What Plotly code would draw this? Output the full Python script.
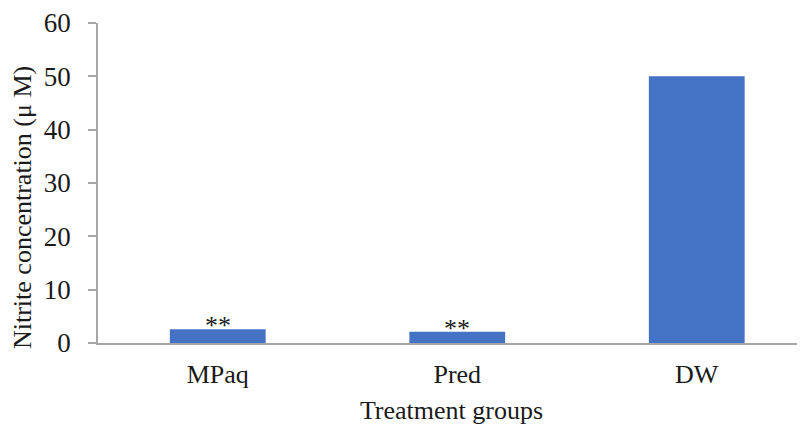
import plotly.graph_objects as go

categories = ["MPaq", "Pred", "DW"]
values = [2.6, 2.1, 50.0]
sig_labels = ["**", "**", ""]
y_ticks = [0, 10, 20, 30, 40, 50, 60]
y_title = "Nitrite concentration (μ M)"
x_title = "Treatment groups"

FONT = "Liberation Serif, Times New Roman, serif"
BLUE = "#4472C4"
AXIS = "#A6A6A6"
TXT = "#1a1a1a"
FS = 26

fig = go.Figure()
fig.add_trace(go.Bar(
    x=categories, y=values, width=0.4,
    marker=dict(color=BLUE, line=dict(width=0)),
    showlegend=False,
))

for c, v, s in zip(categories, values, sig_labels):
    if s:
        fig.add_annotation(x=c, y=v, text=s, showarrow=False, yanchor="bottom",
                           yshift=-13, font=dict(family=FONT, size=FS, color=TXT))

# y-axis title placed as a rotated annotation (sits slightly below the plot centre)
fig.add_annotation(xref="paper", yref="paper", x=-0.106, y=0.422, text=y_title,
                   textangle=-90, showarrow=False, xanchor="center", yanchor="middle",
                   font=dict(family=FONT, size=FS, color=TXT))

# page body adds an 8px offset; the figure is sized to fit the 805x425 window
fig.update_layout(
    width=797, height=417,
    margin=dict(l=90, r=0, t=15, b=82, pad=0, autoexpand=False),
    paper_bgcolor="white", plot_bgcolor="white",
    font=dict(family=FONT, size=FS, color=TXT),
)
fig.update_xaxes(
    range=[-0.5, 2.452], showline=True, linecolor=AXIS, linewidth=1.5,
    ticks="", showgrid=False, zeroline=False, automargin=False,
    ticklabelstandoff=7,
    tickfont=dict(family=FONT, size=FS, color=TXT),
    title=dict(text=x_title, font=dict(family=FONT, size=FS, color=TXT), standoff=13),
)
fig.update_yaxes(
    range=[0, 60], tickvals=y_ticks, showline=True, linecolor=AXIS, linewidth=1.5,
    ticks="outside", ticklen=8, tickcolor=AXIS, tickwidth=1.5,
    showgrid=False, zeroline=False, ticklabelstandoff=12, automargin=False,
    tickfont=dict(family=FONT, size=27, color=TXT),
)

fig.write_html("out.html")
